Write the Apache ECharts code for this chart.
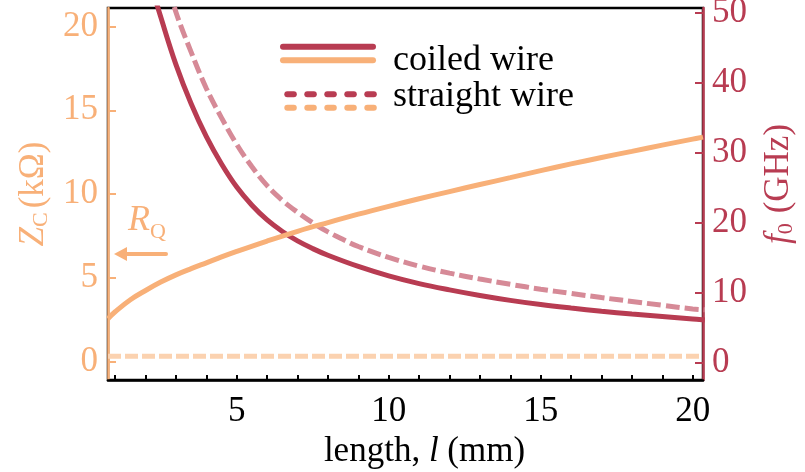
<!DOCTYPE html>
<html>
<head>
<meta charset="utf-8">
<script src="https://cdn.jsdelivr.net/npm/echarts@6/dist/echarts.min.js"></script>
<style>
  html, body { margin: 0; padding: 0; background: #fff; }
  #chart { width: 805px; height: 472px; }
</style>
</head>
<body>
<div id="chart"></div>
<script>
// Characteristic impedance Z_C (kΩ) and resonance frequency f_0 (GHz) versus wire length l (mm)

// coiled wire, resonance frequency
const coiledLen  = [2.2, 2.5, 3, 3.5, 4, 4.5, 5, 5.5, 6, 6.5, 7, 7.5, 8, 9, 10, 11, 12, 13, 14, 15, 16, 17, 18, 19, 20, 20.4];
const coiledFreq = [53.8, 49.4, 42.6, 37.0, 32.3, 28.4, 25.1, 22.5, 20.4, 18.75, 17.4, 16.3, 15.35, 13.75, 12.4, 11.3, 10.4, 9.6, 8.9, 8.3, 7.8, 7.35, 6.95, 6.6, 6.25, 6.1];

// straight wire, resonance frequency
const straightLen  = [2.8, 3, 3.5, 4, 4.5, 5, 5.5, 6, 6.5, 7, 7.5, 8, 8.5, 9, 10, 11, 12, 13, 14, 15, 16, 17, 18, 19, 20, 20.4];
const straightFreq = [53.5, 50.1, 44.4, 39.2, 35.0, 31.2, 28.0, 25.3, 23.2, 21.5, 20.0, 18.7, 17.6, 16.6, 15.05, 13.8, 12.8, 11.95, 11.2, 10.5, 9.9, 9.3, 8.75, 8.2, 7.67, 7.55];

// coiled wire, characteristic impedance
const zcLen    = [0.764, 1, 1.5, 2, 2.5, 3, 3.5, 4, 4.5, 5, 6, 7, 8, 9, 10, 11, 12, 13, 14, 15, 16, 17, 18, 19, 20, 20.34];
const zcCoiled = [2.57, 2.98, 3.7, 4.25, 4.75, 5.18, 5.55, 5.9, 6.25, 6.58, 7.2, 7.78, 8.3, 8.8, 9.27, 9.72, 10.15, 10.57, 10.98, 11.4, 11.8, 12.18, 12.55, 12.92, 13.28, 13.4];

// straight wire, characteristic impedance
const zsLen      = [0.764, 20.34];
const zcStraight = [0.33, 0.33];

// axis ticks and labels
const xTicks  = [1, 2, 3, 4, 5, 6, 7, 8, 9, 10, 11, 12, 13, 14, 15, 16, 17, 18, 19, 20];
const xLabels = [5, 10, 15, 20];
const zTicks  = [0, 5, 10, 15, 20];
const fTicks  = [0, 10, 20, 30, 40, 50];

const legendNames = ['coiled wire', 'straight wire'];

const CRIMSON = '#b83c52';
const CRIMSON_LIGHT = '#d68a97';
const ORANGE = '#f8b078';
const ORANGE_LIGHT = '#fbd2b0';
const FONT = "'Liberation Serif', 'DejaVu Serif', serif";

const pairs = (xs, ys) => xs.map((x, i) => [x, ys[i]]);

const chart = echarts.init(document.getElementById('chart'), null, { renderer: 'canvas' });

const legendDots = (y, color) => [284.3, 304.3, 324.3, 344.3, 364.3].map(x0 => ({
  type: 'line',
  shape: { x1: x0 + 3, y1: y, x2: x0 + 9.5, y2: y },
  style: { stroke: color, lineWidth: 6, lineCap: 'round' }
}));

const sub = (color) => ({ fontFamily: FONT, fontSize: 22, color: color, verticalAlign: 'bottom', padding: [14, 0, 0, 0] });

chart.setOption({
  animation: false,
  backgroundColor: '#fff',
  textStyle: { fontFamily: FONT },
  grid: {
    left: 108, right: 102, top: 8, bottom: 92,
    outerBoundsMode: 'none', containLabel: false,
    show: true, borderColor: '#000', borderWidth: 2.5, backgroundColor: 'transparent'
  },
  xAxis: {
    type: 'value', min: 0.764, max: 20.34,
    axisLine: { onZero: false, lineStyle: { color: '#000', width: 2.5 } },
    axisTick: { inside: true, length: 5, lineStyle: { color: '#000', width: 2 }, customValues: xTicks },
    axisLabel: { customValues: xLabels, color: '#000', fontFamily: FONT, fontSize: 35, margin: 14 },
    splitLine: { show: false },
    name: 'length, {i|l} (mm)',
    nameLocation: 'middle', nameGap: 50,
    nameTextStyle: {
      color: '#000', fontFamily: FONT, fontSize: 35, padding: [0, 0, 0, 38],
      rich: { i: { fontStyle: 'italic', fontFamily: FONT, fontSize: 35, color: '#000' } }
    }
  },
  yAxis: [
    {
      type: 'value', position: 'left', min: -1.09, max: 21.1,
      axisLine: { show: true, onZero: false, lineStyle: { color: ORANGE, width: 2.5 } },
      axisTick: { show: true, inside: true, length: 8, lineStyle: { color: ORANGE, width: 2 }, customValues: zTicks },
      axisLabel: { customValues: zTicks, color: ORANGE, fontFamily: FONT, fontSize: 35, margin: 10, padding: [5, 0, 0, 0] },
      splitLine: { show: false },
      name: '{i|Z}{s|C}{n|(kΩ)}',
      nameLocation: 'middle', nameGap: 56, nameRotate: 90,
      nameTextStyle: {
        color: ORANGE, fontFamily: FONT, fontSize: 35,
        rich: {
          i: { fontStyle: 'italic', fontFamily: FONT, fontSize: 35, color: ORANGE },
          s: sub(ORANGE),
          n: { fontFamily: FONT, fontSize: 35, color: ORANGE, padding: [0, 0, 0, 4] }
        }
      }
    },
    {
      type: 'value', position: 'right', min: -2.48, max: 50.7,
      axisLine: { show: true, onZero: false, lineStyle: { color: CRIMSON, width: 2.5 } },
      axisTick: { show: true, inside: true, length: 8, lineStyle: { color: CRIMSON, width: 2 }, customValues: fTicks },
      axisLabel: { customValues: fTicks, color: CRIMSON, fontFamily: FONT, fontSize: 35, margin: 9, padding: [5, 0, 0, 0] },
      splitLine: { show: false },
      name: '{i|f}{s|0}{n|(GHz)}',
      nameLocation: 'middle', nameGap: 58, nameRotate: 90,
      nameTextStyle: {
        color: CRIMSON, fontFamily: FONT, fontSize: 35, padding: [0, 0, 0, 20],
        rich: {
          i: { fontStyle: 'italic', fontFamily: FONT, fontSize: 35, color: CRIMSON },
          s: sub(CRIMSON),
          n: { fontFamily: FONT, fontSize: 35, color: CRIMSON, padding: [0, 0, 0, 10] }
        }
      }
    }
  ],
  series: [
    {
      name: legendNames[1] + ' f0', type: 'line', yAxisIndex: 1,
      data: pairs(straightLen, straightFreq), showSymbol: false, smooth: 0.4, clip: true,
      lineStyle: { color: CRIMSON_LIGHT, width: 5, type: [14, 5] }, z: 2
    },
    {
      name: legendNames[0] + ' f0', type: 'line', yAxisIndex: 1,
      data: pairs(coiledLen, coiledFreq), showSymbol: false, smooth: 0.4, clip: true,
      lineStyle: { color: CRIMSON, width: 5 }, z: 3
    },
    {
      name: legendNames[1] + ' Zc', type: 'line', yAxisIndex: 0,
      data: pairs(zsLen, zcStraight), showSymbol: false, clip: true,
      lineStyle: { color: ORANGE_LIGHT, width: 5, type: [13, 4] }, z: 2
    },
    {
      name: legendNames[0] + ' Zc', type: 'line', yAxisIndex: 0,
      data: pairs(zcLen, zcCoiled), showSymbol: false, smooth: 0.4, clip: true,
      lineStyle: { color: ORANGE, width: 5 }, z: 4
    }
  ],
  graphic: [
    // legend handles and labels
    { type: 'line', shape: { x1: 283, y1: 46.7, x2: 373, y2: 46.7 }, style: { stroke: CRIMSON, lineWidth: 6, lineCap: 'round' } },
    { type: 'line', shape: { x1: 283, y1: 60.3, x2: 373, y2: 60.3 }, style: { stroke: ORANGE, lineWidth: 6, lineCap: 'round' } },
    ...legendDots(94.3, CRIMSON),
    ...legendDots(107.7, ORANGE),
    { type: 'text', style: { text: legendNames[0], x: 393, y: 61, fill: '#000', font: "36px 'Liberation Serif'", verticalAlign: 'middle' } },
    { type: 'text', style: { text: legendNames[1], x: 393, y: 96.5, fill: '#000', font: "36px 'Liberation Serif'", verticalAlign: 'middle' } },
    // R_Q marker with arrow toward the impedance axis
    {
      type: 'text',
      style: {
        text: '{i|R}{s|Q}', x: 128, y: 221, verticalAlign: 'middle', fill: ORANGE,
        rich: {
          i: { fontStyle: 'italic', fontFamily: FONT, fontSize: 36, fill: ORANGE },
          s: { fontFamily: FONT, fontSize: 22, fill: ORANGE, padding: [22, 0, 0, 0] }
        }
      }
    },
    { type: 'line', shape: { x1: 166, y1: 254, x2: 122, y2: 254 }, style: { stroke: ORANGE, lineWidth: 4, lineCap: 'round' } },
    { type: 'polygon', shape: { points: [[114, 254], [127, 247], [127, 261]] }, style: { fill: ORANGE } }
  ]
});
</script>
</body>
</html>
